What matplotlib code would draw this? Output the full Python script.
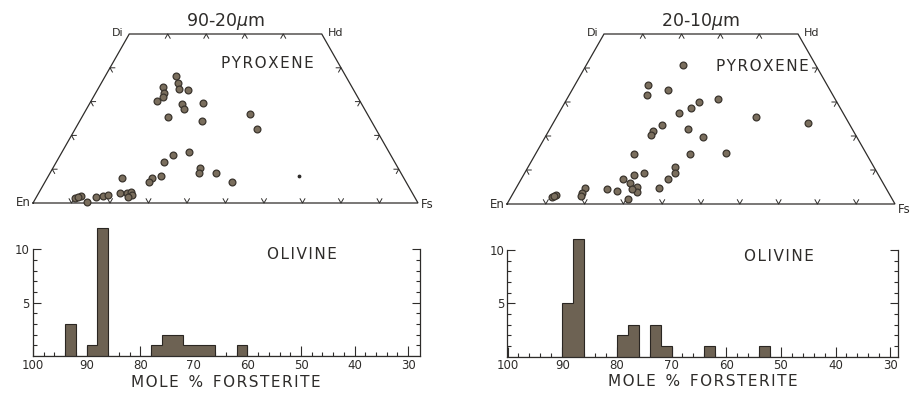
import numpy as np
import matplotlib.pyplot as plt

# pyroxene compositions read off the quadrilaterals (mol% Wo, mol% Fs)
# 90-20 um fraction
pyx_a_wo = [37.6, 35.4, 33.7, 33.4, 34.2, 32.5, 31.3, 30.2, 29.2, 27.8,
            29.7, 25.4, 24.2, 26.4, 22.0, 15.1, 14.3, 12.1, 7.5, 6.3,
            7.9, 10.3, 9.0, 9.0, 6.1, 7.3,
            1.4, 2.1, 1.7, 0.3, 1.9, 2.2, 2.4, 3.0, 3.0, 3.3, 2.4, 1.9]
pyx_a_fs = [18.4, 20.0, 21.0, 23.5, 16.7, 17.8, 18.1, 17.2, 24.1, 25.2,
            29.4, 22.3, 31.8, 43.2, 47.2, 32.9, 29.1, 27.9, 27.1, 27.1,
            29.3, 38.1, 38.6, 43.0, 48.7, 19.5,
            10.2, 11.4, 10.8, 13.8, 15.4, 17.0, 18.4, 21.1, 22.8, 23.7, 24.5, 23.8]
# the single tiny dot
pyx_a_dot_wo = [8.0]
pyx_a_dot_fs = [65.2]

# 20-10 um fraction
pyx_b_wo = [40.9, 35.0, 32.1, 33.5, 26.7, 28.1, 29.9, 30.8, 25.5, 23.8,
            23.1, 21.6, 20.3, 22.0, 19.7, 14.7, 14.7, 15.0, 11.0, 9.0,
            7.3, 4.6, 7.3, 8.5, 9.0, 6.1, 5.1, 3.6, 4.4, 1.5,
            4.3, 3.8, 4.6, 3.1, 2.4, 2.0, 2.6, 2.3]
pyx_b_fs = [25.0, 18.8, 20.0, 24.7, 31.1, 33.3, 34.5, 38.9, 51.4, 65.6,
            28.3, 26.7, 27.0, 35.7, 40.7, 25.5, 39.9, 49.0, 37.7, 38.7,
            37.9, 36.9, 26.3, 28.5, 30.9, 28.7, 30.9, 31.6, 30.0, 30.5,
            23.5, 26.4, 17.8, 17.7, 17.8, 10.5, 11.3, 10.9]

# olivine histograms, 2 % Fo bins: lower bin edge and count
ol_a_bins = [92, 88, 86, 76, 74, 72, 70, 68, 66, 60]
ol_a_counts = [3, 1, 12, 1, 2, 2, 1, 1, 1, 1]
ol_b_bins = [88, 86, 78, 76, 72, 70, 62, 52]
ol_b_counts = [5, 11, 2, 3, 3, 1, 1, 1]

titles = ['90-20$\\mu$m', '20-10$\\mu$m']
fo_ticks = [100, 90, 80, 70, 60, 50, 40, 30]

INK = '#2e2c2a'
DOT_FACE = '#7a6e5d'
BAR_FACE = '#6d6253'


# slightly opened lettering like the original stencil labels
def spaced(s):
    out = ''
    for i, ch in enumerate(s):
        out += ch
        if i < len(s) - 1 and ch != ' ' and s[i + 1] != ' ':
            out += '\u200a'
    return out


# Wo/Fs -> quadrilateral coordinates (x along En-Fs, y = Wo)
def to_xy(wo, fs):
    wo = np.asarray(wo, float)
    fs = np.asarray(fs, float)
    return fs + wo / 2.0, wo


# draw the Di-Hd-En-Fs outline with small chevron ticks
def draw_quad(ax, wo, fs, title, fs_y=-0.5, dot_wo=None, dot_fs=None):
    ax.set_xlim(0, 100)
    ax.set_ylim(0, 50)
    ax.axis('off')

    ox = [0, 100, 75, 25, 0]
    oy = [0, 0, 50, 50, 0]
    ax.plot(ox, oy, color=INK, lw=0.9, clip_on=False, solid_joinstyle='miter')

    t = 1.25
    for v in range(10, 100, 10):
        ax.plot([v - 0.5 * t, v, v + 0.5 * t], [t, 0, t], color=INK, lw=0.7, clip_on=False)
    for v in range(10, 50, 10):
        x = 25 + v
        ax.plot([x - 0.5 * t, x, x + 0.5 * t], [50 - t, 50, 50 - t], color=INK, lw=0.7, clip_on=False)
        # left edge (Fs = 0)
        x = v / 2.0
        ax.plot([x + t, x, x + 0.5 * t], [v, v, v - t], color=INK, lw=0.7, clip_on=False)
        # right edge (En = 0)
        x = 100 - v / 2.0
        ax.plot([x - t, x, x - 0.5 * t], [v, v, v - t], color=INK, lw=0.7, clip_on=False)

    x, y = to_xy(wo, fs)
    ax.scatter(x, y, s=24, facecolor=DOT_FACE, edgecolor='#3a342d', linewidths=0.9,
               zorder=3, clip_on=False)
    if dot_wo is not None:
        dx, dy = to_xy(dot_wo, dot_fs)
        ax.scatter(dx, dy, s=3, color=INK, zorder=3)

    ax.text(50, 53.8, title, ha='center', va='center', fontsize=12.5, color=INK)
    ax.text(23.6, 50.4, 'Di', ha='right', va='center', fontsize=8, color=INK)
    ax.text(76.5, 50.4, 'Hd', ha='left', va='center', fontsize=8, color=INK)
    ax.text(-0.6, 0, 'En', ha='right', va='center', fontsize=8.5, color=INK)
    ax.text(100.8, fs_y, 'Fs', ha='left', va='center', fontsize=8.5, color=INK)


# olivine histogram with the open-topped frame
def draw_hist(ax, bins, counts, xlim, label_y, olivine_y):
    edges = np.arange(28, 102, 2)
    vals = np.zeros(len(edges) - 1)
    for b, c in zip(bins, counts):
        vals[list(edges).index(b)] = c
    ax.stairs(vals, edges, fill=True, facecolor=BAR_FACE, edgecolor='#2a2622',
              linewidth=0.8, zorder=2)

    ax.set_xlim(*xlim)
    ax.set_ylim(0, 12.5)
    ax.spines['top'].set_visible(False)
    ax.spines['left'].set_bounds(0, 10)
    ax.spines['right'].set_bounds(0, 10)
    for s in ['left', 'right', 'bottom']:
        ax.spines[s].set_color(INK)
        ax.spines[s].set_linewidth(0.9)

    ax.set_xticks(fo_ticks)
    ax.set_xticks(np.arange(30, 100, 2), minor=True)
    ax.set_yticks([5, 10])
    ax.set_yticks(range(1, 10), minor=True)
    ax.tick_params(axis='both', which='both', direction='in', colors=INK,
                   labelsize=8.5, right=True, pad=2)
    ax.tick_params(axis='x', which='major', length=7, width=0.8)
    ax.tick_params(axis='x', which='minor', length=3, width=0.8)
    ax.tick_params(axis='y', which='major', length=6, width=0.8)
    ax.tick_params(axis='y', which='minor', length=3, width=0.8)
    ax.patch.set_alpha(0)

    ax.text(0.5, label_y, spaced('MOLE  %  FORSTERITE'), transform=ax.transAxes,
            ha='center', va='center', fontsize=11, color=INK)
    ax.text(0.695, olivine_y, spaced('OLIVINE'), transform=ax.transAxes,
            ha='center', va='center', fontsize=11, color=INK)


def main():
    fig = plt.figure(figsize=(9.17, 3.93), dpi=100)

    ax1 = fig.add_axes([33 / 917, 1 - 203 / 393, 385 / 917, 169 / 393])
    draw_quad(ax1, pyx_a_wo, pyx_a_fs, titles[0], dot_wo=pyx_a_dot_wo, dot_fs=pyx_a_dot_fs)
    ax1.text(61.0, 41.4, spaced('PYROXENE'), ha='center', va='center', fontsize=11, color=INK)

    ax2 = fig.add_axes([507 / 917, 1 - 204 / 393, 388 / 917, 170 / 393])
    draw_quad(ax2, pyx_b_wo, pyx_b_fs, titles[1], fs_y=-1.5)
    ax2.text(65.7, 40.3, spaced('PYROXENE'), ha='center', va='center', fontsize=11, color=INK)

    ax3 = fig.add_axes([32.5 / 917, 1 - 356 / 393, 387.5 / 917, 133.3 / 393])
    draw_hist(ax3, ol_a_bins, ol_a_counts, (100.1, 27.8), -0.2, 0.758)

    ax4 = fig.add_axes([507 / 917, 1 - 356.7 / 393, 391.4 / 917, 133.3 / 393])
    draw_hist(ax4, ol_b_bins, ol_b_counts, (100.1, 28.5), -0.185, 0.748)

    fig.savefig('out.png', dpi=100)


if __name__ == "__main__":
    main()
